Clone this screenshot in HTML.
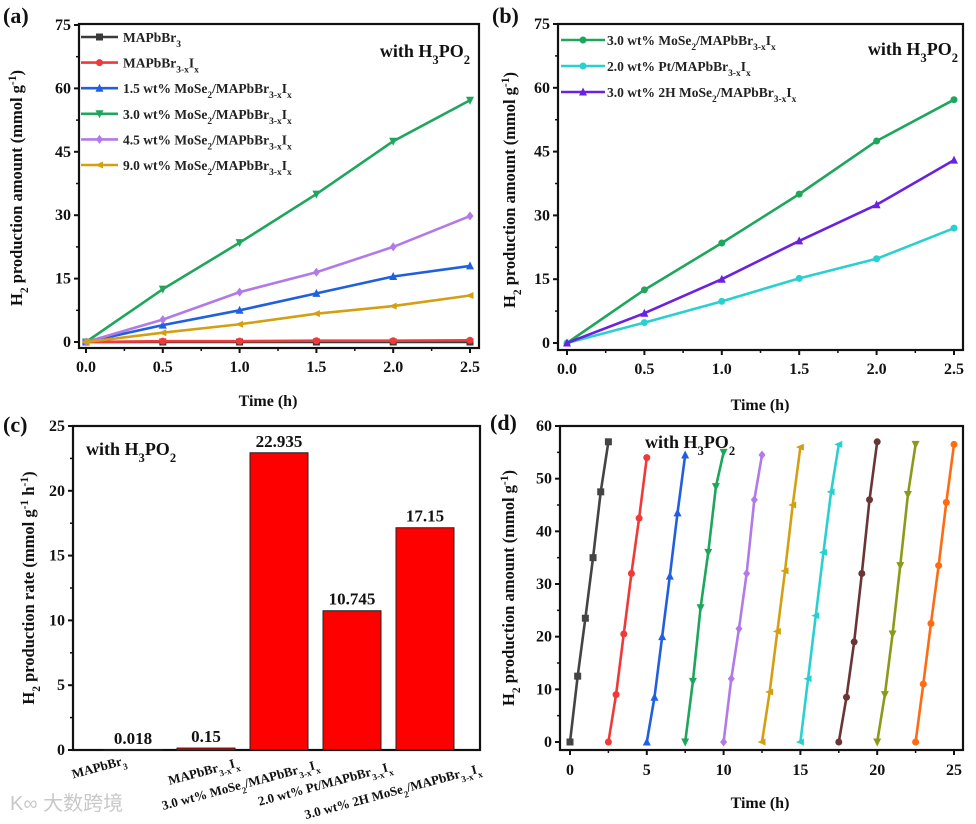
<!DOCTYPE html>
<html><head><meta charset="utf-8"><style>
html,body{margin:0;padding:0;background:#fff;}
svg{display:block;font-family:"Liberation Serif",serif;font-weight:bold;}
</style></head>
<body>
<svg id="fig" width="976" height="824" viewBox="0 0 976 824" xmlns="http://www.w3.org/2000/svg"></svg>
<script>
// ---------- data ----------
const timeA = [0, 0.5, 1.0, 1.5, 2.0, 2.5];
const aBlack = [0, 0, 0, 0, 0, 0];
const aRed = [0, 0.2, 0.2, 0.3, 0.3, 0.4];
const aBlue = [0, 4, 7.5, 11.5, 15.5, 18];
const aGreen = [0, 12.5, 23.5, 35, 47.5, 57.2];
const aPurple = [0, 5.3, 11.8, 16.5, 22.5, 29.8];
const aGold = [0, 2.2, 4.2, 6.7, 8.5, 11];
const aLabels = ["MAPbBr_{3}", "MAPbBr_{3-x}I_{x}", "1.5 wt% MoSe_{2}/MAPbBr_{3-x}I_{x}", "3.0 wt% MoSe_{2}/MAPbBr_{3-x}I_{x}", "4.5 wt% MoSe_{2}/MAPbBr_{3-x}I_{x}", "9.0 wt% MoSe_{2}/MAPbBr_{3-x}I_{x}"];
const bGreen = [0, 12.5, 23.5, 35, 47.5, 57.2];
const bCyan = [0, 4.8, 9.8, 15.2, 19.8, 27];
const bPurple = [0, 7, 15, 24, 32.5, 43];
const bLabels = ["3.0 wt% MoSe_{2}/MAPbBr_{3-x}I_{x}", "2.0 wt% Pt/MAPbBr_{3-x}I_{x}", "3.0 wt% 2H MoSe_{2}/MAPbBr_{3-x}I_{x}"];
const cCategories = ["MAPbBr_{3}", "MAPbBr_{3-x}I_{x}", "3.0 wt% MoSe_{2}/MAPbBr_{3-x}I_{x}", "2.0 wt% Pt/MAPbBr_{3-x}I_{x}", "3.0 wt% 2H MoSe_{2}/MAPbBr_{3-x}I_{x}"];
const cValues = [0.018, 0.15, 22.935, 10.745, 17.15];
const cPrinted = ["0.018", "0.15", "22.935", "10.745", "17.15"];
const dCycleStart = [0, 2.5, 5, 7.5, 10, 12.5, 15, 17.5, 20, 22.5];
const dCycleOffsets = [0, 0.5, 1.0, 1.5, 2.0, 2.5];
const dC1 = [0, 12.5, 23.5, 35, 47.5, 57];
const dC2 = [0, 9, 20.5, 32, 42.5, 54];
const dC3 = [0, 8.5, 20, 31.5, 43.5, 54.5];
const dC4 = [0, 11.5, 25.5, 36, 48.5, 55];
const dC5 = [0, 12, 21.5, 32, 46, 54.5];
const dC6 = [0, 9.5, 21, 32.5, 45, 56];
const dC7 = [0, 12, 24, 36, 47.5, 56.5];
const dC8 = [0, 8.5, 19, 32, 46, 57];
const dC9 = [0, 9, 20.5, 33.5, 47, 56.5];
const dC10 = [0, 11, 22.5, 33.5, 45.5, 56.5];
const yTicksA = [0, 15, 30, 45, 60, 75];
const xTicksA = [0, 0.5, 1.0, 1.5, 2.0, 2.5];
const yTicksC = [0, 5, 10, 15, 20, 25];
const yTicksD = [0, 10, 20, 30, 40, 50, 60];
const xTicksD = [0, 5, 10, 15, 20, 25];

const NS = "http://www.w3.org/2000/svg";
const svg = document.getElementById("fig");
function el(tag, attrs, parent) {
  const e = document.createElementNS(NS, tag);
  for (const k in attrs) e.setAttribute(k, attrs[k]);
  (parent || svg).appendChild(e);
  return e;
}
function rich(t, str) {
  const re = /(_\{[^}]*\}|\^\{[^}]*\})/;
  str.split(re).forEach(p => {
    if (!p) return;
    const ts = document.createElementNS(NS, "tspan");
    if (p[0] === "_" || p[0] === "^") {
      ts.textContent = p.slice(2, -1);
      ts.setAttribute("baseline-shift", p[0] === "_" ? "sub" : "super");
      ts.setAttribute("font-size", "70%");
    } else ts.textContent = p;
    t.appendChild(ts);
  });
  return t;
}
function text(x, y, str, size, anchor, name, extra) {
  const t = el("text", Object.assign({x: x, y: y, "font-size": size, "text-anchor": anchor || "start", fill: "#111"}, extra || {}));
  
  
  rich(t, str);
  return t;
}
function marker(g, x, y, shape, color) {
  let m;
  const r = 3.5;
  if (shape === "circle") m = el("circle", {cx: x, cy: y, r: r, fill: color}, g);
  else if (shape === "square") m = el("rect", {x: x - r, y: y - r, width: 2 * r, height: 2 * r, fill: color}, g);
  else if (shape === "up") m = el("polygon", {points: `${x},${y - r - 1} ${x - r - 0.5},${y + r} ${x + r + 0.5},${y + r}`, fill: color}, g);
  else if (shape === "down") m = el("polygon", {points: `${x},${y + r + 1} ${x - r - 0.5},${y - r} ${x + r + 0.5},${y - r}`, fill: color}, g);
  else if (shape === "diamond") m = el("polygon", {points: `${x},${y - r - 1} ${x + r},${y} ${x},${y + r + 1} ${x - r},${y}`, fill: color}, g);
  else m = el("polygon", {points: `${x - r - 1},${y} ${x + r},${y - r} ${x + r},${y + r}`, fill: color}, g);
  
  
}
function series(xs, ys, sx, sy, color, shape, name) {
  const g = el("g", {});
  
  
  const pts = xs.map((x, i) => sx(x) + "," + sy(ys[i])).join(" ");
  const pl = el("polyline", {points: pts, fill: "none", stroke: color, "stroke-width": 2.6, "stroke-linejoin": "round"}, g);
  
  
  xs.forEach((x, i) => marker(g, sx(x), sy(ys[i]), shape, color));
}
function frame(box, name) {
  const r = el("rect", {x: box.l, y: box.t, width: box.r - box.l, height: box.b - box.t, fill: "none", stroke: "#111", "stroke-width": 2.2});
  
  
}
function yAxis(box, ticks, sy, fmt, name) {
  const g = el("g", {});
  
  
  ticks.forEach((v, i) => {
    el("line", {x1: box.l - 5, x2: box.l, y1: sy(v), y2: sy(v), stroke: "#111", "stroke-width": 2}, g);
    if (i < ticks.length - 1) {
      const mv = (v + ticks[i + 1]) / 2;
      el("line", {x1: box.l - 3, x2: box.l, y1: sy(mv), y2: sy(mv), stroke: "#111", "stroke-width": 1.5}, g);
    }
    const t = el("text", {x: box.l - 8, y: sy(v) + 5, "font-size": 16, "text-anchor": "end", fill: "#111"}, g);
    
    
    t.textContent = fmt(v);
  });
}
function xAxis(box, ticks, sx, fmt, name, ly) {
  const g = el("g", {});
  
  
  ticks.forEach((v, i) => {
    el("line", {x1: sx(v), x2: sx(v), y1: box.b, y2: box.b + 5, stroke: "#111", "stroke-width": 2}, g);
    if (i < ticks.length - 1) {
      const mv = (v + ticks[i + 1]) / 2;
      el("line", {x1: sx(mv), x2: sx(mv), y1: box.b, y2: box.b + 3, stroke: "#111", "stroke-width": 1.5}, g);
    }
    const t = el("text", {x: sx(v), y: ly, "font-size": 16, "text-anchor": "middle", fill: "#111"}, g);
    
    
    t.textContent = fmt(v);
  });
}
function vtitle(x, y, str, name) {
  text(0, 0, str, 16.5, "middle", name, {transform: `translate(${x},${y}) rotate(-90)`});
}
function legend(x1, x2, tx, y, color, shape, label, name) {
  const g = el("g", {});
  
  
  el("line", {x1: x1, x2: x2, y1: y, y2: y, stroke: color, "stroke-width": 2.6}, g);
  marker(g, (x1 + x2) / 2, y, shape, color);
  const t = el("text", {x: tx, y: y + 5, "font-size": 13.5, fill: "#222"}, g);
  
  
  rich(t, label);
}

// ---------- panel a ----------
const boxA = {l: 79, r: 479, t: 24, b: 348};
const sxA = v => 86 + v / 2.5 * 384;
const syA = v => 342 - v / 75 * 317;
frame(boxA, "panel-a-frame");
yAxis(boxA, yTicksA, syA, v => String(v), "panel-a-y-axis");
xAxis(boxA, xTicksA, sxA, v => v.toFixed(1), "panel-a-x-axis", 372);
const colA = ["#3a3a3a", "#f03a3a", "#2060e0", "#1ea65c", "#b27ae8", "#d4a012"];
const shpA = ["square", "circle", "up", "down", "diamond", "left"];
[aBlack, aRed, aBlue, aGreen, aPurple, aGold].forEach((s, i) => series(timeA, s, sxA, syA, colA[i], shpA[i], "panel-a-series-" + (i + 1)));
aLabels.forEach((l, i) => legend(81, 118, 123, 37 + i * 25.6, colA[i], shpA[i], l, "panel-a-legend-entry"));
text(470, 57, "with H_{3}PO_{2}", 18, "end", "panel-a-annotation");
text(3, 23, "(a)", 22, "start", "panel-a-label");
vtitle(22, 188, "H_{2} production amount (mmol g^{-1})", "panel-a-y-axis-title");
text(268, 406, "Time (h)", 16, "middle", "panel-a-x-axis-title");

// ---------- panel b ----------
const boxB = {l: 558, r: 963, t: 24, b: 350};
const sxB = v => 567 + v / 2.5 * 387;
const syB = v => 343 - v / 75 * 319;
frame(boxB, "panel-b-frame");
yAxis(boxB, yTicksA, syB, v => String(v), "panel-b-y-axis");
xAxis(boxB, xTicksA, sxB, v => v.toFixed(1), "panel-b-x-axis", 374);
const colB = ["#1ea65c", "#2ad0d0", "#6a22e0"];
const shpB = ["circle", "circle", "up"];
[bGreen, bCyan, bPurple].forEach((s, i) => series(timeA, s, sxB, syB, colB[i], shpB[i], "panel-b-series-" + (i + 1)));
bLabels.forEach((l, i) => legend(561, 605, 607, 40 + i * 26, colB[i], shpB[i], l, "panel-b-legend-entry"));
text(958, 55, "with H_{3}PO_{2}", 18, "end", "panel-b-annotation");
text(492, 23, "(b)", 22, "start", "panel-b-label");
vtitle(515, 190, "H_{2} production amount (mmol g^{-1})", "panel-b-y-axis-title");
text(760, 410, "Time (h)", 16, "middle", "panel-b-x-axis-title");

// ---------- panel c ----------
const boxC = {l: 73, r: 480, t: 426, b: 750};
const syC = v => 750 - v / 25 * 324;
const bxC = i => 133 + i * 73;
frame(boxC, "panel-c-frame");
yAxis(boxC, yTicksC, syC, v => String(v), "panel-c-y-axis");
const labEnd = [-6, 34, 41, 41, 57];
cValues.forEach((v, i) => {
  const r = el("rect", {x: bxC(i) - 29, y: syC(v), width: 58, height: 750 - syC(v), fill: "#ff0000", stroke: "#222", "stroke-width": 1});
  
  
  text(bxC(i), syC(v) - 6, cPrinted[i], 17, "middle", "bar-value-label");
  const xl = bxC(i) + labEnd[i];
  text(0, 0, cCategories[i], 13, "end", "x-category-label", {transform: `translate(${xl},${764 + i * 2}) rotate(-15)`});
});
text(86, 455, "with H_{3}PO_{2}", 18, "start", "panel-c-annotation");
text(3, 432, "(c)", 22, "start", "panel-c-label");
vtitle(34, 588, "H_{2} production rate (mmol g^{-1} h^{-1})", "panel-c-y-axis-title");

// ---------- panel d ----------
const boxD = {l: 560, r: 963, t: 426, b: 750};
const sxD = v => 570 + v / 25 * 384;
const syD = v => 742 - v / 60 * 316;
frame(boxD, "panel-d-frame");
yAxis(boxD, yTicksD, syD, v => String(v), "panel-d-y-axis");
xAxis(boxD, xTicksD, sxD, v => String(v), "panel-d-x-axis", 775);
const colD = ["#444", "#f03a3a", "#2060e0", "#1ea65c", "#b27ae8", "#d4a012", "#2ad0d0", "#6b3535", "#8c9a1a", "#ff6a12"];
const shpD = ["square", "circle", "up", "down", "diamond", "left", "left", "circle", "down", "circle"];
[dC1, dC2, dC3, dC4, dC5, dC6, dC7, dC8, dC9, dC10].forEach((s, i) => {
  const xs = dCycleOffsets.map(o => dCycleStart[i] + o);
  series(xs, s, sxD, syD, colD[i], shpD[i], "panel-d-cycle-" + (i + 1));
});
text(645, 448, "with H_{3}PO_{2}", 18, "start", "panel-d-annotation");
text(490, 430, "(d)", 22, "start", "panel-d-label");
vtitle(514, 588, "H_{2} production amount (mmol g^{-1})", "panel-d-y-axis-title");
text(760, 808, "Time (h)", 16, "middle", "panel-d-x-axis-title");

// watermark
const wm = el("text", {x: 10, y: 810, "font-size": 20, fill: "#c8c8c8", "font-family": "'Liberation Sans','Noto Sans CJK SC',sans-serif", "font-weight": "normal"});


wm.textContent = "K∞ 大数跨境";
</script>
</body></html>
